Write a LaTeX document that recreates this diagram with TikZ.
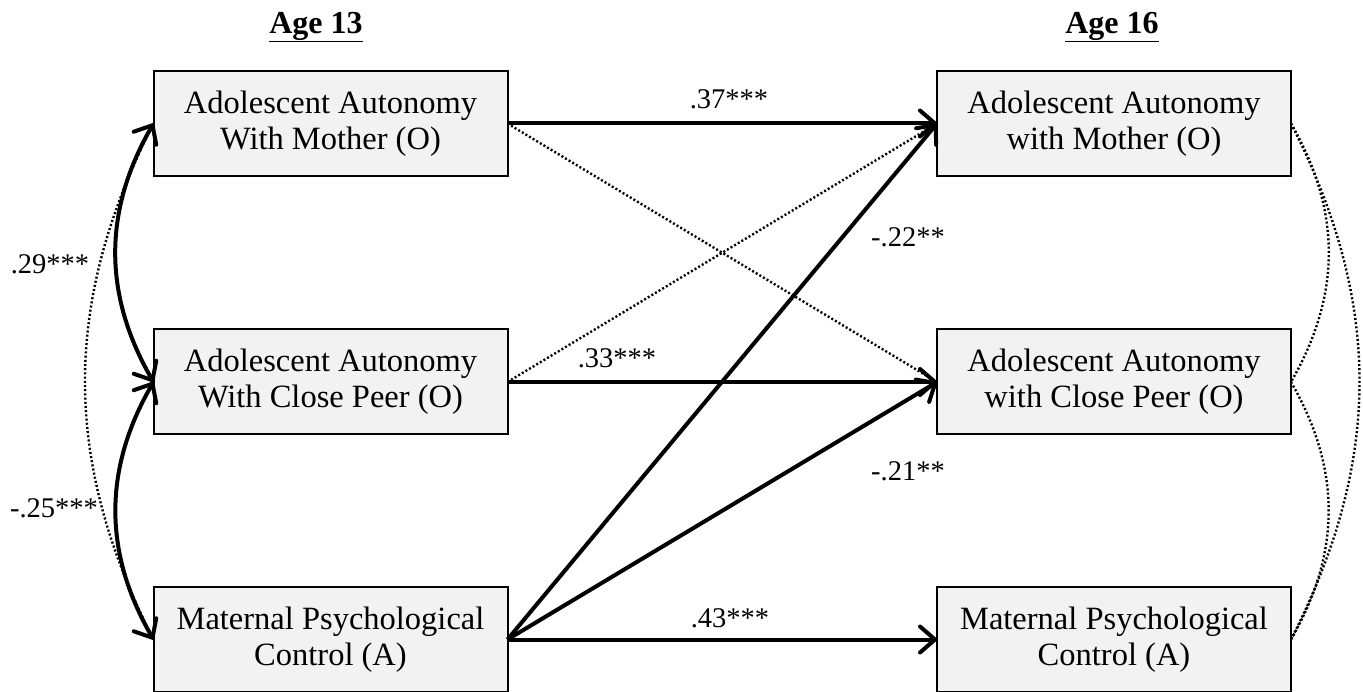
\documentclass[tikz,border=0pt]{standalone}
\usepackage{fontspec}
\setmainfont{Liberation Serif}
\usetikzlibrary{arrows.meta}
\definecolor{boxgray}{HTML}{F2F2F2}
\begin{document}
\begin{tikzpicture}[x=1pt,y=-1pt,
  box/.style={draw=black,line width=2pt,fill=boxgray,minimum width=354pt,minimum height=105pt,
    inner sep=0pt,outer sep=0pt,align=center,font=\fontsize{32.5}{36}\selectfont},
  lbl/.style={inner sep=0pt,font=\fontsize{28.5}{30}\selectfont},
  hdr/.style={inner sep=0pt,font=\fontsize{32}{36}\selectfont\bfseries},
  solidarrow/.style={line width=4pt,-{Straight Barb[length=15pt,width=26pt,round]}},
  dualarrow/.style={line width=4pt,{Straight Barb[length=15pt,width=26pt,round]}-{Straight Barb[length=15pt,width=26pt,round]}},
  dotline/.style={line width=2.4pt,dash pattern=on 2pt off 2.2pt}]
\useasboundingbox (0,0) rectangle (1363,692);

% headers
\node[hdr] (h13) at (316,27) {\underline{Age 13}};
\node[hdr] (h16) at (1112,27) {\underline{Age 16}};

% boxes
\node[box] (ltop) at (330.5,123.5) {Adolescent Autonomy\\With Mother (O)};
\node[box] (lmid) at (330.5,382) {Adolescent Autonomy\\With Close Peer (O)};
\node[box] (lbot) at (330.5,639.5) {Maternal Psychological\\Control (A)};
\node[box] (rtop) at (1114,123.5) {Adolescent Autonomy\\with Mother (O)};
\node[box] (rmid) at (1114,382) {Adolescent Autonomy\\with Close Peer (O)};
\node[box] (rbot) at (1114,639.5) {Maternal Psychological\\Control (A)};

% dotted cross paths
\draw[dotline] (ltop.east) -- (rmid.west);
\draw[dotline] (lmid.east) -- (rtop.west);

% left covariances
\draw[dotline] (ltop.west) to[out=243,in=117] (lbot.west);
\draw[dualarrow] (ltop.west) to[out=240,in=120] (lmid.west);
\draw[dualarrow] (lmid.west) to[out=240,in=120] (lbot.west);

% right residual covariances
\draw[dotline] (rtop.east) to[out=-60,in=60] (rmid.east);
\draw[dotline] (rmid.east) to[out=-60,in=60] (rbot.east);
\draw[dotline] (rtop.east) to[out=-63,in=63] (rbot.east);

% solid paths
\draw[solidarrow] (ltop.east) -- (rtop.west);
\draw[solidarrow] (lmid.east) -- (rmid.west);
\draw[solidarrow] (lbot.east) -- (rbot.west);
\draw[solidarrow] (lbot.east) -- (rtop.west);
\draw[solidarrow] (lbot.east) -- (rmid.west);

% labels
\node[lbl] (c37) at (729,99) {.37***};
\node[lbl] (c33) at (617,358) {.33***};
\node[lbl] (c22) at (908,237) {-.22**};
\node[lbl] (c21) at (908,471) {-.21**};
\node[lbl] (c43) at (730,618) {.43***};
\node[lbl] (c29) at (50,264) {.29***};
\node[lbl] (c25) at (54,508) {-.25***};
\end{tikzpicture}
\end{document}
